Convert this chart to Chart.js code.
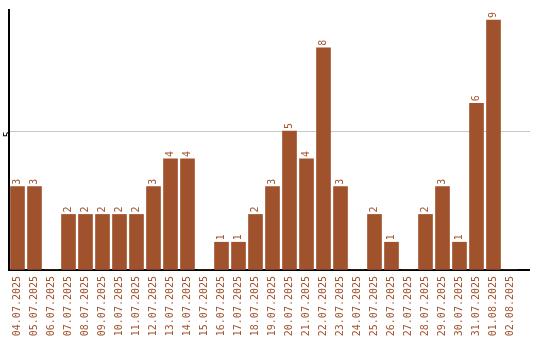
<!DOCTYPE html>
<html>
<head>
<meta charset="utf-8">
<script src="https://cdn.jsdelivr.net/npm/chart.js@4"></script>
<style>
  html, body { margin: 0; padding: 0; background: #fff; }
</style>
</head>
<body>
<canvas id="myChart" width="540" height="340"></canvas>
<script>
// Daily counts, 04.07.2025 - 02.08.2025
const dates = [
    '04.07.2025', '05.07.2025', '06.07.2025', '07.07.2025', '08.07.2025',
    '09.07.2025', '10.07.2025', '11.07.2025', '12.07.2025', '13.07.2025',
    '14.07.2025', '15.07.2025', '16.07.2025', '17.07.2025', '18.07.2025',
    '19.07.2025', '20.07.2025', '21.07.2025', '22.07.2025', '23.07.2025',
    '24.07.2025', '25.07.2025', '26.07.2025', '27.07.2025', '28.07.2025',
    '29.07.2025', '30.07.2025', '31.07.2025', '01.08.2025', '02.08.2025'
];
const counts = [3, 3, 0, 2, 2, 2, 2, 2, 3, 4, 4, 0, 1, 1, 2, 3, 5, 4, 8, 3, 0, 2, 1, 0, 2, 3, 1, 6, 9, 0];
const yTicks = [5];

const brown = '#a0522d';
const monoFont = { family: 'DejaVu Sans Mono', size: 10 };

// numbers above the bars, rotated like the axis labels
const valueLabels = {
    id: 'valueLabels',
    beforeDatasetsDraw(chart) {
        // grid line and x axis run a little past the last category
        const a = chart.chartArea;
        const ctx = chart.ctx;
        const y5 = chart.scales.y.getPixelForValue(yTicks[0]);
        ctx.save();
        ctx.strokeStyle = '#c8c8c8';
        ctx.lineWidth = 1;
        ctx.beginPath();
        ctx.moveTo(a.right - 1, Math.round(y5) + 0.5);
        ctx.lineTo(530, Math.round(y5) + 0.5);
        ctx.stroke();
        ctx.restore();
    },
    afterDatasetsDraw(chart) {
        const ctx = chart.ctx;
        const meta = chart.getDatasetMeta(0);
        ctx.save();
        ctx.fillStyle = brown;
        ctx.font = '10px "DejaVu Sans Mono"';
        ctx.textAlign = 'left';
        ctx.textBaseline = 'middle';
        meta.data.forEach(function(bar, i) {
            const v = counts[i];
            if (!v) return;
            ctx.save();
            ctx.translate(bar.x, bar.y - 2);
            ctx.rotate(-Math.PI / 2);
            ctx.fillText(String(v), 0, 0);
            ctx.restore();
        });
        ctx.restore();
    },
    afterDraw(chart) {
        const a = chart.chartArea;
        const ctx = chart.ctx;
        ctx.save();
        ctx.strokeStyle = '#000';
        ctx.lineWidth = 2;
        ctx.beginPath();
        ctx.moveTo(a.right - 1, a.bottom);
        ctx.lineTo(530, a.bottom);
        ctx.stroke();
        ctx.restore();
    }
};

const ctx = document.getElementById('myChart').getContext('2d');
new Chart(ctx, {
    type: 'bar',
    data: {
        labels: dates,
        datasets: [{
            data: counts,
            backgroundColor: brown,
            borderWidth: 0,
            barThickness: 14
        }]
    },
    options: {
        responsive: false,
        animation: false,
        layout: { padding: { top: 10, right: 21, left: 0, bottom: 0 } },
        plugins: {
            legend: { display: false },
            tooltip: { enabled: false }
        },
        scales: {
            x: {
                grid: { display: false, drawTicks: false },
                border: { color: '#000', width: 2 },
                ticks: {
                    color: brown,
                    font: monoFont,
                    autoSkip: false,
                    minRotation: 90,
                    maxRotation: 90,
                    padding: 6
                },
                afterFit: function(scale) { scale.height = 70; }
            },
            y: {
                min: 0,
                max: 9.36,
                grid: {
                    drawTicks: false,
                    color: function(c) {
                        return yTicks.includes(c.tick.value) ? '#c8c8c8' : 'rgba(0,0,0,0)';
                    }
                },
                border: { color: '#000', width: 2 },
                ticks: {
                    stepSize: 5,
                    color: '#000',
                    font: { family: 'DejaVu Sans Mono', size: 10 },
                    minRotation: 90,
                    maxRotation: 90,
                    padding: 1,
                    callback: function(value) {
                        return yTicks.includes(value) ? String(value) : '';
                    }
                },
                afterFit: function(scale) { scale.width = 9; }
            }
        }
    },
    plugins: [valueLabels]
});
</script>
</body>
</html>
